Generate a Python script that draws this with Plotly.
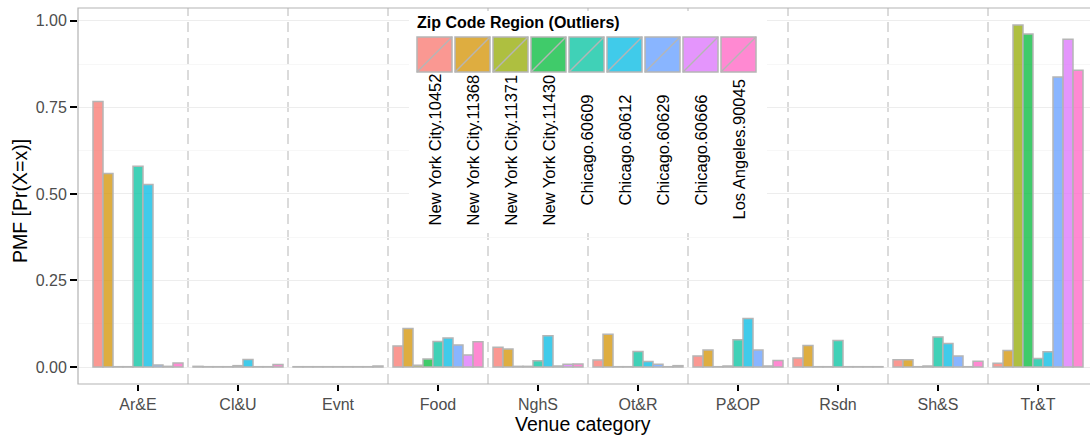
import plotly.graph_objects as go

# Venue categories along the x axis
categories = ["Ar&E", "Cl&U", "Evnt", "Food", "NghS", "Ot&R", "P&OP", "Rsdn", "Sh&S", "Tr&T"]

# Zip code regions (one bar series each)
regions = [
    "New York City.10452", "New York City.11368", "New York City.11371",
    "New York City.11430", "Chicago.60609", "Chicago.60612",
    "Chicago.60629", "Chicago.60666", "Los Angeles.90045",
]

# PMF values per region, in category order
nyc_10452 = [0.767, 0.002, 0.001, 0.061, 0.057, 0.020, 0.032, 0.026, 0.021, 0.011]
nyc_11368 = [0.559, 0.001, 0.001, 0.111, 0.052, 0.095, 0.049, 0.062, 0.021, 0.048]
nyc_11371 = [0.001, 0.001, 0.001, 0.005, 0.002, 0.001, 0.001, 0.001, 0.001, 0.988]
nyc_11430 = [0.001, 0.001, 0.001, 0.023, 0.002, 0.001, 0.003, 0.001, 0.003, 0.962]
chi_60609 = [0.580, 0.004, 0.001, 0.074, 0.018, 0.045, 0.079, 0.077, 0.087, 0.025]
chi_60612 = [0.527, 0.022, 0.001, 0.084, 0.090, 0.016, 0.140, 0.001, 0.068, 0.044]
chi_60629 = [0.006, 0.001, 0.001, 0.064, 0.003, 0.008, 0.049, 0.001, 0.032, 0.838]
chi_60666 = [0.002, 0.001, 0.001, 0.035, 0.008, 0.001, 0.003, 0.001, 0.001, 0.947]
la_90045 = [0.012, 0.007, 0.003, 0.073, 0.009, 0.004, 0.019, 0.001, 0.017, 0.857]

series_values = [nyc_10452, nyc_11368, nyc_11371, nyc_11430, chi_60609,
                 chi_60612, chi_60629, chi_60666, la_90045]

# ggplot-style hue palette for nine groups
palette = ["#F8766D", "#D39200", "#93AA00", "#00BA38", "#00C19F",
           "#00B9E3", "#619CFF", "#DB72FB", "#FF61C3"]

y_ticks = [0, 0.25, 0.5, 0.75, 1.0]
y_tick_labels = ["0.00", "0.25", "0.50", "0.75", "1.00"]

FONT = "Liberation Sans, Arial, Helvetica, sans-serif"
OUTLINE = "#B5B5B5"
ALPHA = 0.75

W, H = 1090, 435
M_L, M_R, M_T, M_B = 78, 0, 8, 51
PLOT_W = W - M_L - M_R
PLOT_H = H - M_T - M_B


def rgba(hex_color, a):
    h = hex_color.lstrip("#")
    r, g, b = int(h[0:2], 16), int(h[2:4], 16), int(h[4:6], 16)
    return f"rgba({r},{g},{b},{a})"


def px_x(p):
    """Pixel column -> paper x."""
    return (p - M_L) / PLOT_W


def px_y(p):
    """Pixel row -> paper y."""
    return (H - M_B - p) / PLOT_H


fig = go.Figure()

for name, vals, col in zip(regions, series_values, palette):
    fig.add_trace(go.Bar(
        x=categories, y=vals, name=name,
        marker=dict(color=rgba(col, ALPHA), line=dict(color=OUTLINE, width=1.5)),
        showlegend=False,
    ))

shapes = []

# dashed separators between venue categories
for i in range(len(categories) - 1):
    shapes.append(dict(
        type="line", xref="x", yref="paper", x0=i + 0.5, x1=i + 0.5, y0=0, y1=1,
        line=dict(color="#C4C4C4", width=1.2, dash="10px,6px"), layer="between",
    ))

# panel border (left, top, bottom)
shapes.append(dict(type="rect", xref="paper", yref="paper", x0=0, x1=1.02, y0=0, y1=1,
                   line=dict(color="#B3B3B3", width=1.2), fillcolor="rgba(0,0,0,0)",
                   layer="above"))

# legend box
shapes.append(dict(type="rect", xref="paper", yref="paper",
                   x0=px_x(409), x1=px_x(767), y0=px_y(233), y1=px_y(11),
                   line=dict(width=0), fillcolor="white", layer="above"))

annotations = []
annotations.append(dict(
    text="<b>Zip Code Region (Outliers)</b>", xref="paper", yref="paper",
    x=px_x(415), y=px_y(22), xanchor="left", yanchor="middle", showarrow=False,
    font=dict(family=FONT, size=16, color="black"),
))

key_left, key_pitch, key_size = 417, 38, 35
key_top = 37
for k, (name, col) in enumerate(zip(regions, palette)):
    x0 = key_left + k * key_pitch
    x1 = x0 + key_size
    y0, y1 = key_top, key_top + key_size
    shapes.append(dict(type="rect", xref="paper", yref="paper",
                       x0=px_x(x0), x1=px_x(x1), y0=px_y(y1), y1=px_y(y0),
                       fillcolor=rgba(col, ALPHA), line=dict(color=OUTLINE, width=1.5),
                       layer="above"))
    shapes.append(dict(type="line", xref="paper", yref="paper",
                       x0=px_x(x0), x1=px_x(x1), y0=px_y(y1), y1=px_y(y0),
                       line=dict(color=OUTLINE, width=1.5), layer="above"))
    annotations.append(dict(
        text=name, xref="paper", yref="paper",
        x=px_x((x0 + x1) / 2), y=px_y(150), xanchor="center", yanchor="middle",
        textangle=-90, showarrow=False,
        font=dict(family=FONT, size=16.5, color="black"),
    ))

# axis titles
annotations.append(dict(
    text="Venue category", xref="paper", yref="paper", x=px_x(583), y=px_y(424),
    xanchor="center", yanchor="middle", showarrow=False,
    font=dict(family=FONT, size=19.5, color="black"),
))
annotations.append(dict(
    text="PMF [Pr(X=x)]", xref="paper", yref="paper", x=px_x(20), y=px_y(201),
    xanchor="center", yanchor="middle", textangle=-90, showarrow=False,
    font=dict(family=FONT, size=19.5, color="black"),
))

fig.update_layout(
    width=W, height=H,
    margin=dict(l=M_L, r=M_R, t=M_T, b=M_B, pad=0),
    paper_bgcolor="white", plot_bgcolor="white",
    barmode="group", bargap=0.1, bargroupgap=0,
    shapes=shapes, annotations=annotations,
    font=dict(family=FONT),
    xaxis=dict(
        type="category", categoryorder="array", categoryarray=categories,
        range=[-0.6, (W - M_R - M_L) / 100 - 0.6],
        showgrid=False, zeroline=False, showline=False,
        ticks="outside", ticklen=6, tickwidth=1.5, tickcolor="black",
        tickfont=dict(family=FONT, size=16, color="#4D4D4D"),
    ),
    yaxis=dict(
        range=[-0.049, 1.037],
        tickvals=y_ticks, ticktext=y_tick_labels,
        showgrid=True, gridcolor="#EDEDED", gridwidth=1,
        minor=dict(dtick=0.125, tick0=0, showgrid=True, gridcolor="#F7F7F7", gridwidth=1),
        zeroline=False, showline=False,
        ticks="outside", ticklen=7, tickwidth=1.5, tickcolor="black",
        tickfont=dict(family=FONT, size=16, color="#4D4D4D"),
    ),
)

fig.write_html("out.html")
